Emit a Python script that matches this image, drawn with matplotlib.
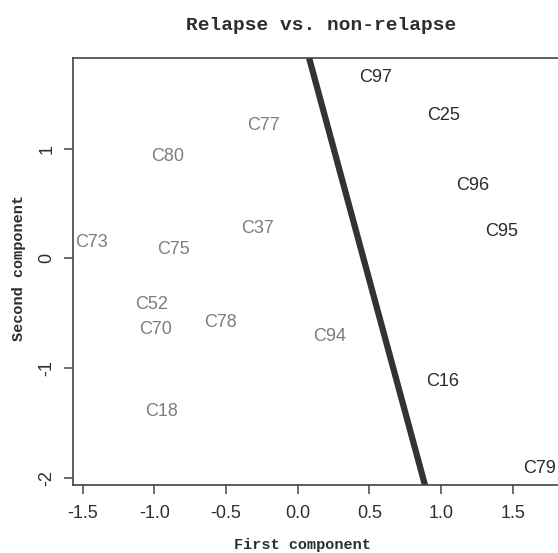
''' PCA scatter of samples: relapse vs. non-relapse '''

import matplotlib
matplotlib.use('Agg')
import matplotlib.pyplot as plt

# sample labels and their coordinates on the first two components
LABELS = ['C97', 'C25', 'C96', 'C95', 'C16', 'C79',
          'C94', 'C77', 'C80', 'C73', 'C75', 'C37',
          'C52', 'C70', 'C78', 'C18']
X = [0.54, 1.02, 1.22, 1.42, 1.01, 1.69,
     0.22, -0.24, -0.91, -1.44, -0.87, -0.28,
     -1.02, -0.99, -0.54, -0.95]
Y = [1.65, 1.30, 0.66, 0.24, -1.12, -1.92,
     -0.71, 1.21, 0.93, 0.14, 0.08, 0.27,
     -0.42, -0.65, -0.59, -1.40]
# 1 = non-relapse (dark), 0 = relapse (gray)
GROUP = [1, 1, 1, 1, 1, 1,
         0, 0, 0, 0, 0, 0,
         0, 0, 0, 0]

# separating line: passes through this point with this slope
LINE_POINT = (0.888, -2.067)
LINE_SLOPE = -4.815

XTICKS = [-1.5, -1.0, -0.5, 0.0, 0.5, 1.0, 1.5]
YTICKS = [-2, -1, 0, 1]

GROUP_COLOR = {0: '#7d7d7d', 1: '#2b2b2b'}


def main():
    plt.rcParams['axes.unicode_minus'] = False
    W, H = 558, 553
    fig = plt.figure(figsize=(W / 100, H / 100), dpi=100)
    # the right spine of the original is cut off by the image edge
    ax = fig.add_axes([72.7 / W, 68 / H, 497.3 / W, 426.7 / H])
    ax.set_xlim(-1.57, 1.9)
    ax.set_ylim(-2.067, 1.823)

    for lab, x, y, g in zip(LABELS, X, Y, GROUP):
        ax.text(x, y, lab, ha='center', va='center', fontsize=13,
                family='Liberation Sans', color=GROUP_COLOR[g])

    ax.axline(LINE_POINT, slope=LINE_SLOPE, color='#333333', linewidth=4.5,
              solid_capstyle='butt')

    ax.set_xticks(XTICKS)
    ax.set_xticklabels(['%.1f' % t for t in XTICKS])
    ax.set_yticks(YTICKS)
    ax.set_yticklabels([str(t) for t in YTICKS], rotation=90, va='center')
    for lbl in ax.get_xticklabels() + ax.get_yticklabels():
        lbl.set_family('Liberation Sans')
        lbl.set_fontsize(13)
        lbl.set_color('#2e2e2e')
    ax.tick_params(direction='out', length=6.5, width=1.1, color='#444444')
    ax.tick_params(axis='x', pad=8)
    ax.tick_params(axis='y', pad=6)
    for s in ax.spines.values():
        s.set_color('#444444')
        s.set_linewidth(1.2)

    fig.text(321 / W, 1 - 25 / H, 'Relapse vs. non-relapse', ha='center',
             va='center', family='Liberation Mono', weight='bold',
             fontsize=14, color='#2e2e2e')
    fig.text(302 / W, 1 - 545 / H, 'First component', ha='center',
             va='center', family='Liberation Mono', weight='bold',
             fontsize=11, color='#2e2e2e')
    fig.text(19 / W, 1 - 268 / H, 'Second component', ha='center',
             va='center', rotation=90, family='Liberation Mono',
             weight='bold', fontsize=11, color='#2e2e2e')

    fig.savefig('out.png', dpi=100)


if __name__ == '__main__':
    main()
